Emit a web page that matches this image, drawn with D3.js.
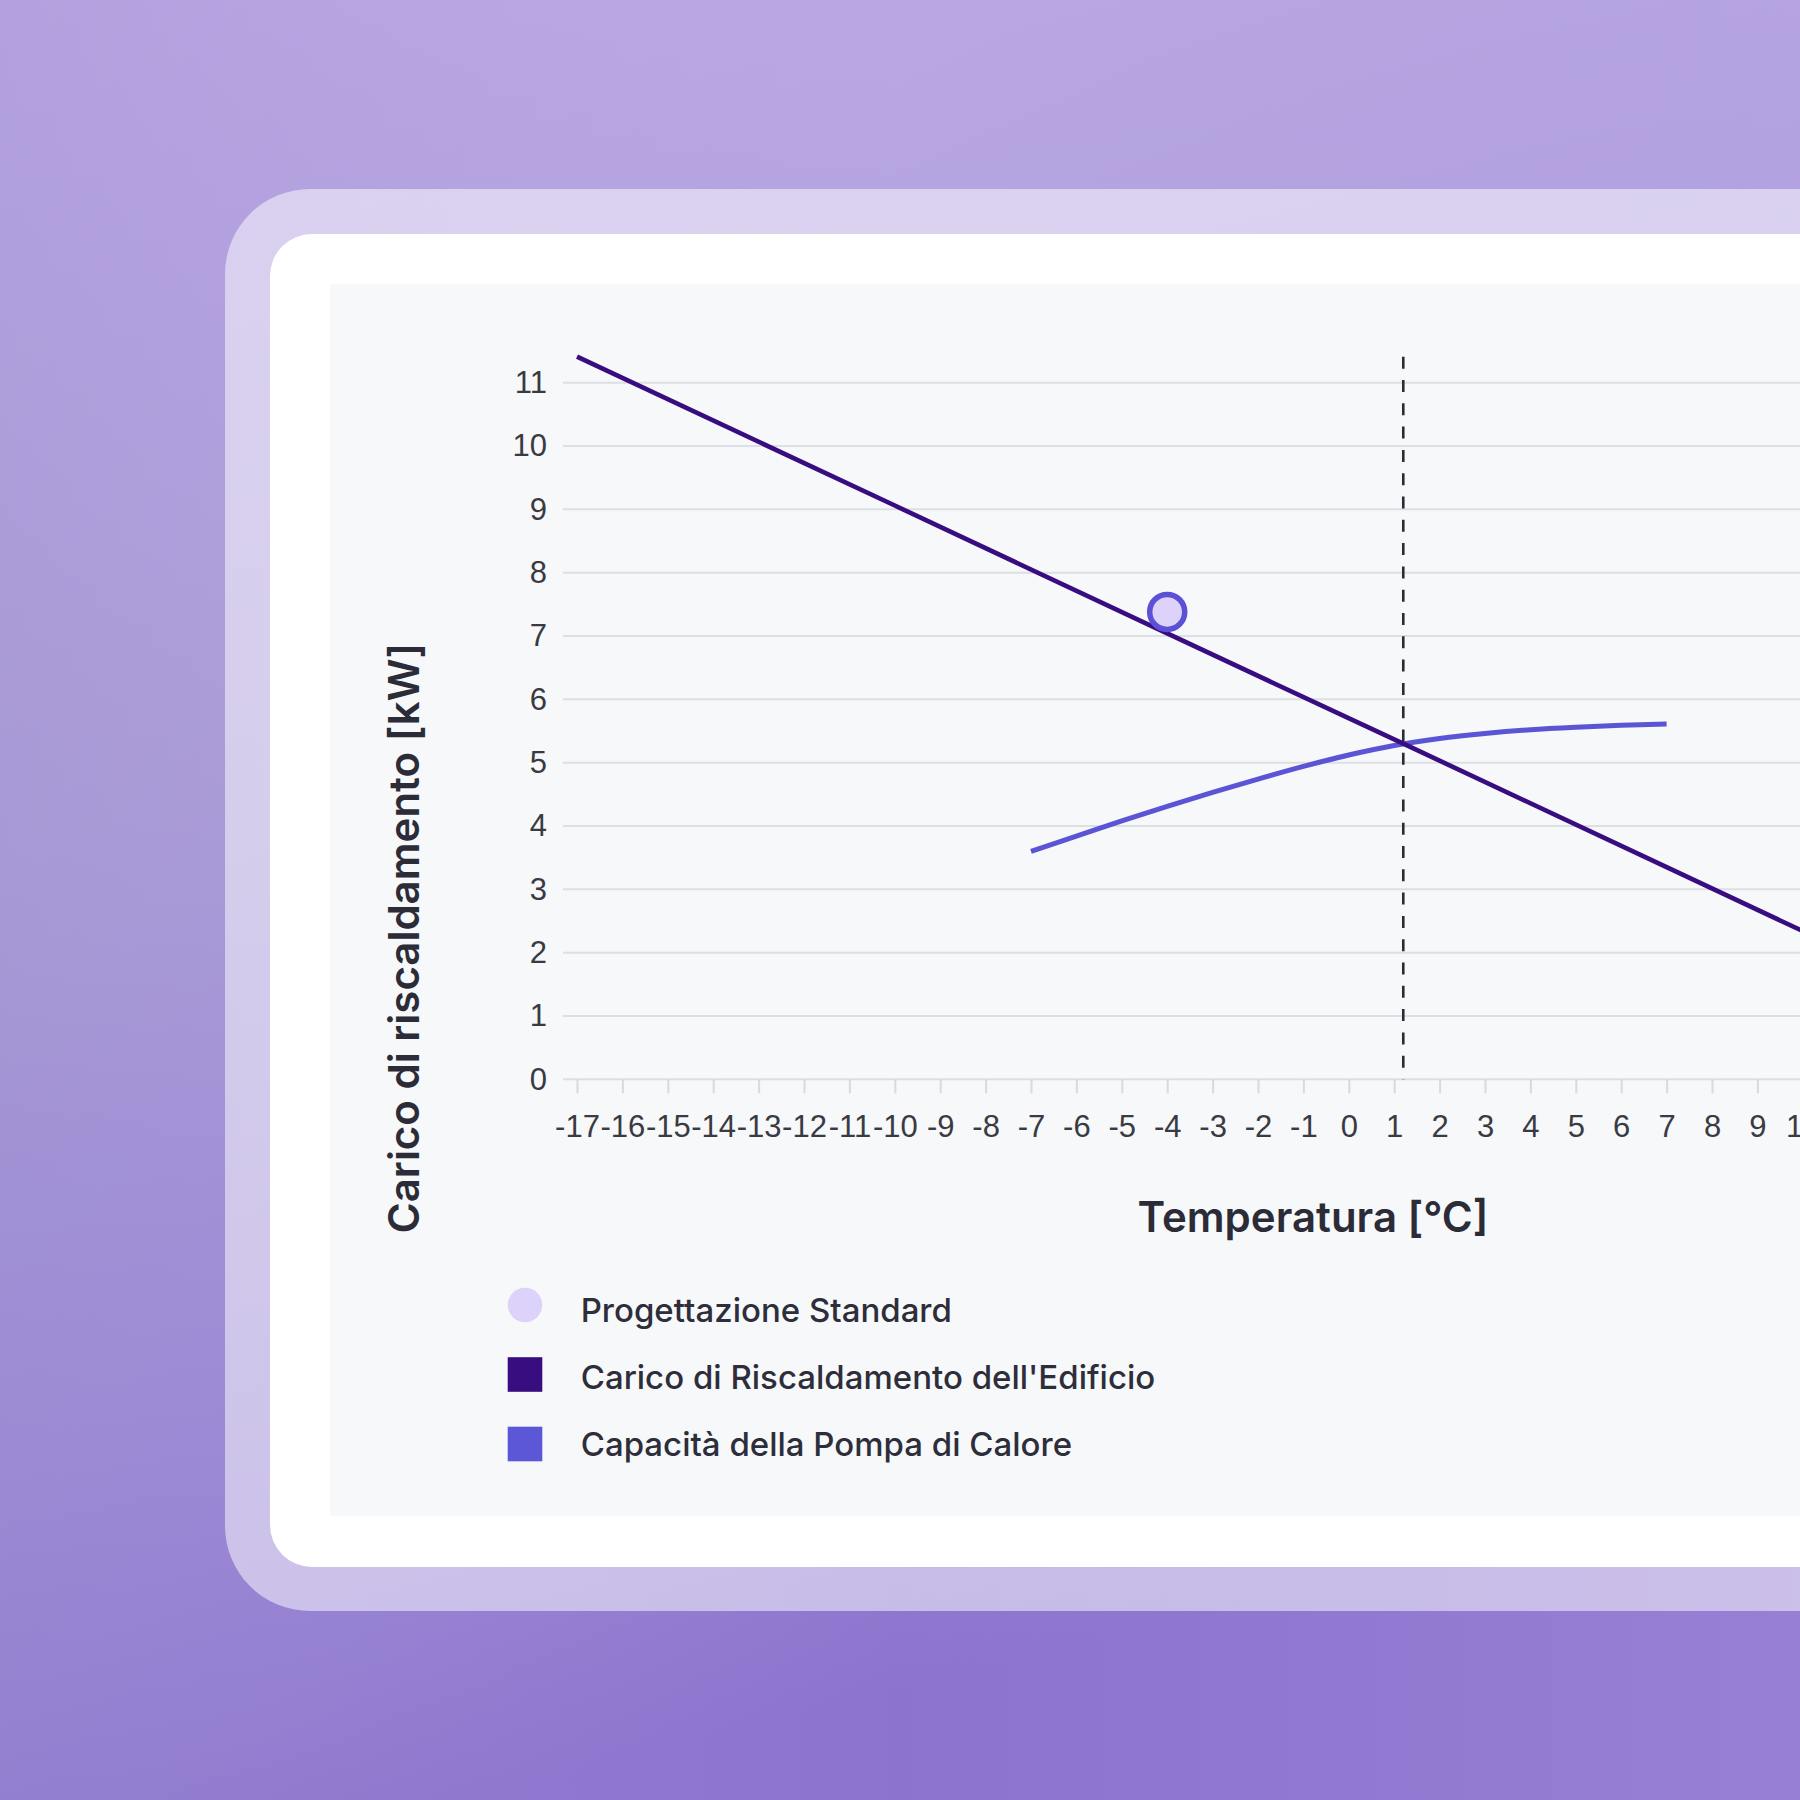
<!DOCTYPE html>
<html>
<head>
<meta charset="utf-8">
<script src="https://cdn.jsdelivr.net/npm/d3@7"></script>
<style>
  html, body { margin: 0; padding: 0; }
  body { width: 1800px; height: 1800px; overflow: hidden; }
</style>
</head>
<body>
<div id="chart"></div>
<script>
// temperature axis labels and y ticks
const tempTicks = d3.range(-17, 17);
const kwTicks = [0, 1, 2, 3, 4, 5, 6, 7, 8, 9, 10, 11];

// building heating load (straight line, read at a few points)
const loadTemps = [-17, -10, -4, 1.2, 7, 10, 16];
const loadKw = [11.41, 9.06, 7.04, 5.30, 3.35, 2.34, 0.32];

// heat pump capacity
const pumpTemps = [-7, -6, -5, -4, -3, -2, -1, 0, 1, 2, 3, 4, 5, 6, 7];
const pumpKw = [3.60, 3.84, 4.08, 4.31, 4.53, 4.74, 4.94, 5.12, 5.27, 5.38, 5.46, 5.52, 5.56, 5.59, 5.61];

// design point + balance point
const designTemp = [-4];
const designKw = [7.38];
const balanceTemp = 1.2;

const legendLabels = ["Progettazione Standard", "Carico di Riscaldamento dell'Edificio", "Capacità della Pompa di Calore"];

const W = 1800, H = 1800;
const svg = d3.select("#chart").append("svg")
  .attr("width", W).attr("height", H);

// background
const defs = svg.append("defs");
const bg = defs.append("linearGradient").attr("id", "bg")
  .attr("x1", 0).attr("y1", 0).attr("x2", 0.25).attr("y2", 1);
bg.append("stop").attr("offset", 0).attr("stop-color", "#bdaae6");
bg.append("stop").attr("offset", 0.45).attr("stop-color", "#ad9fd9");
bg.append("stop").attr("offset", 0.8).attr("stop-color", "#9a86d6");
bg.append("stop").attr("offset", 1).attr("stop-color", "#8b74cd");
const bg2 = defs.append("linearGradient").attr("id", "bg2")
  .attr("x1", 0).attr("y1", 0).attr("x2", 1).attr("y2", 0);
bg2.append("stop").attr("offset", 0).attr("stop-color", "#9a8ccc").attr("stop-opacity", 0.3);
bg2.append("stop").attr("offset", 0.5).attr("stop-color", "#b49be6").attr("stop-opacity", 0);
bg2.append("stop").attr("offset", 1).attr("stop-color", "#b8a2ea").attr("stop-opacity", 0.25);

svg.append("rect").attr("width", W).attr("height", H).attr("fill", "url(#bg)");
svg.append("rect").attr("width", W).attr("height", H).attr("fill", "url(#bg2)");

// cards
svg.append("rect").attr("x", 225).attr("y", 189).attr("width", 1800).attr("height", 1422)
  .attr("rx", 85).attr("fill", "#fff").attr("fill-opacity", 0.5);
svg.append("rect").attr("x", 270).attr("y", 234).attr("width", 1800).attr("height", 1333)
  .attr("rx", 42).attr("fill", "#ffffff");
svg.append("rect").attr("x", 330).attr("y", 284).attr("width", 1600).attr("height", 1232)
  .attr("fill", "#f6f8fa");

// scales
const x = d3.scaleLinear().domain([-17, 16]).range([577, 577 + 33 * 45.4]);
const y = d3.scaleLinear().domain([0, d3.max(loadKw)]).range([1079.3, 356.7]);
const gridLeft = 563, gridRight = x(16) + 14;

// grid lines
svg.append("g").selectAll("line").data(kwTicks).enter()
  .append("line")
  .attr("x1", gridLeft).attr("x2", gridRight)
  .attr("y1", d => y(d)).attr("y2", d => y(d))
  .attr("stroke", "#dcdfe3").attr("stroke-width", 2);

// x axis
const xAxis = svg.append("g")
  .attr("transform", `translate(0,${y(0)})`)
  .call(d3.axisBottom(x).tickValues(tempTicks).tickSize(14).tickPadding(22)
    .tickFormat(d => String(d)));
xAxis.select(".domain").remove();
xAxis.selectAll(".tick line").attr("stroke", "#d7dadf").attr("stroke-width", 2);
xAxis.selectAll(".tick text")
  .attr("fill", "#3a3a42")
  .style("font-family", "'Liberation Sans', Arial, sans-serif")
  .style("font-size", "31px");

// y axis labels
const yAxis = svg.append("g")
  .attr("transform", `translate(${gridLeft},0)`)
  .call(d3.axisLeft(y).tickValues(kwTicks).tickSize(0).tickPadding(16));
yAxis.select(".domain").remove();
yAxis.selectAll(".tick text")
  .attr("fill", "#3a3a42")
  .style("font-family", "'Liberation Sans', Arial, sans-serif")
  .style("font-size", "31px");

// balance point dashed line
svg.append("line")
  .attr("x1", x(balanceTemp)).attr("x2", x(balanceTemp))
  .attr("y1", y(d3.max(loadKw))).attr("y2", y(0))
  .attr("stroke", "#2b2b38").attr("stroke-width", 2.6)
  .attr("stroke-dasharray", "12,11.3");

// heat pump capacity
const pumpData = pumpTemps.map((t, i) => [t, pumpKw[i]]);
svg.append("path").datum(pumpData)
  .attr("d", d3.line().x(d => x(d[0])).y(d => y(d[1])).curve(d3.curveCatmullRom.alpha(0.5)))
  .attr("fill", "none").attr("stroke", "#5b55d6").attr("stroke-width", 5);

// building load
const loadData = loadTemps.map((t, i) => [t, loadKw[i]]);
svg.append("path").datum(loadData)
  .attr("d", d3.line().x(d => x(d[0])).y(d => y(d[1])))
  .attr("fill", "none").attr("stroke", "#380d7f").attr("stroke-width", 4.6);

// design point
svg.append("g").selectAll("circle").data(designTemp).enter()
  .append("circle")
  .attr("cx", d => x(d)).attr("cy", (d, i) => y(designKw[i]))
  .attr("r", 17.5)
  .attr("fill", "#ddd3fa").attr("stroke", "#5b50d6").attr("stroke-width", 5.5);

// axis titles
svg.append("text")
  .attr("x", 1313).attr("y", 1232)
  .attr("text-anchor", "middle")
  .attr("fill", "#2c2c38")
  .style("font-family", "Inter, sans-serif").style("font-weight", 600)
  .style("font-size", "42px")
  .text("Temperatura [°C]");

svg.append("text")
  .attr("transform", "translate(419,938) rotate(-90)")
  .attr("text-anchor", "middle")
  .attr("fill", "#2c2c38")
  .style("font-family", "Inter, sans-serif").style("font-weight", 600)
  .style("font-size", "42px")
  .text("Carico di riscaldamento [kW]");

// legend
const legendColors = ["#ddd3fa", "#380d7f", "#5b57d6"];
const legend = svg.append("g");
legendLabels.forEach((lab, i) => {
  const cy = 1305 + i * 69.5;
  if (i === 0) {
    legend.append("circle").attr("cx", 525).attr("cy", cy).attr("r", 17.3)
      .attr("fill", legendColors[i]);
  } else {
    legend.append("rect").attr("x", 507.7).attr("y", cy - 17.3)
      .attr("width", 34.6).attr("height", 34.6).attr("fill", legendColors[i]);
  }
  legend.append("text")
    .attr("x", 580.7).attr("y", 1321.5 + i * 67.2)
    .attr("fill", "#2e2e3a")
    .style("font-family", "Inter, sans-serif").style("font-weight", 500)
    .style("font-size", "33px")
    .text(lab);
});
</script>
</body>
</html>
